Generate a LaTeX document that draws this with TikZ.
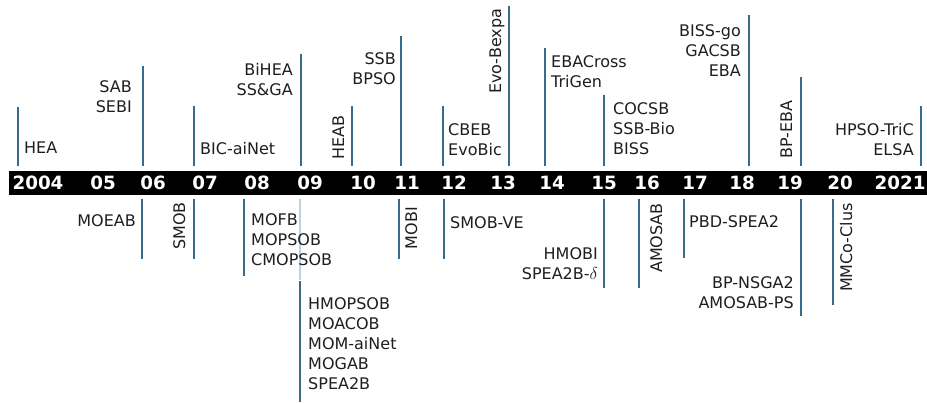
\documentclass[tikz,border=0pt]{standalone}
\usepackage{fontspec}
\setmainfont{DejaVu Sans}
\usetikzlibrary{positioning}
\definecolor{tickblue}{RGB}{55,108,140}
\definecolor{tickfade}{RGB}{190,211,226}
\definecolor{lbltext}{RGB}{30,30,30}

\begin{document}
\begin{tikzpicture}[x=1pt,y=-1pt,
    tick/.style={tickblue, line width=2.2pt},
    lbl/.style={inner sep=0pt, text=lbltext, font=\fontsize{16}{20}\selectfont},
    yr/.style={inner sep=0pt, text=white, font=\fontsize{18.3}{20}\selectfont\bfseries}]
    \useasboundingbox (0,0) rectangle (927,403);

    % Year bar
    \fill[black] (9,171) rectangle (927,195);
    \foreach \x/\y in {38/2004, 103/05, 153/06, 205/07, 257/08, 310/09, 363/10,
        407/11, 454/12, 503/13, 552/14, 604/15, 647/16, 695/17, 742/18, 790/19,
        840/20, 900/2021}
        \node[yr] (y\y) at (\x,183) {\y};

    % Ticks above the bar
    \foreach \x/\t in {18/107, 143/66, 194/106, 301/54, 352/106, 401/36, 443/106,
        509/6, 545/48, 604/95, 749/15, 801/77, 921/106}
        \draw[tick] (\x,\t) -- (\x,166);

    % Ticks below the bar
    \foreach \x/\b in {142/259, 194/259, 244/276, 399/259, 444/259, 604/288,
        639/288, 684/258, 801/316, 833/305}
        \draw[tick] (\x,199) -- (\x,\b);
    \draw[tick, tickfade] (300,199) -- (300,280);
    \draw[tick] (300,281) -- (300,402);

    % Labels above
    \node[lbl, anchor=north west] (hea) at (24,142) {HEA};
    \node[lbl, anchor=north east, align=right] (sab) at (132,80) {SAB\\SEBI};
    \node[lbl, anchor=north west] (bic) at (200,142) {BIC-aiNet};
    \node[lbl, anchor=north east, align=right] (bihea) at (293,63) {BiHEA\\SS\&GA};
    \node[lbl, rotate=90, anchor=base west] (heab) at (344,160) {HEAB};
    \node[lbl, anchor=north east, align=right] (ssb) at (396,52) {SSB\\BPSO};
    \node[lbl, anchor=north west, align=left] (cbeb) at (448,123) {CBEB\\EvoBic};
    \node[lbl, rotate=90, anchor=base west] (evob) at (501,94) {Evo-Bexpa};
    \node[lbl, anchor=north west, align=left] (ebac) at (551,55) {EBACross\\TriGen};
    \node[lbl, anchor=north west, align=left] (cocsb) at (613,102) {COCSB\\SSB-Bio\\BISS};
    \node[lbl, anchor=north east, align=right] (bissgo) at (741,24) {BISS-go\\GACSB\\EBA};
    \node[lbl, rotate=90, anchor=base west] (bpeba) at (792,159) {BP-EBA};
    \node[lbl, anchor=north east, align=right] (hpso) at (914,123) {HPSO-TriC\\ELSA};

    % Labels below
    \node[lbl, anchor=north east] (moeab) at (136,214) {MOEAB};
    \node[lbl, rotate=90, anchor=base east] (smob) at (185,202) {SMOB};
    \node[lbl, anchor=north west, align=left] (mofb) at (251,213) {MOFB\\MOPSOB\\CMOPSOB};
    \node[lbl, anchor=north west, align=left] (hmopsob) at (308,297)
        {HMOPSOB\\MOACOB\\MOM-aiNet\\MOGAB\\SPEA2B};
    \node[lbl, rotate=90, anchor=base east] (mobi) at (417,207) {MOBI};
    \node[lbl, anchor=north west] (smobve) at (450,216) {SMOB-VE};
    \node[lbl, anchor=north east, align=right] (hmobi) at (598,247) {HMOBI\\SPEA2B-$\delta$};
    \node[lbl, rotate=90, anchor=base east] (amosab) at (662,203) {AMOSAB};
    \node[lbl, anchor=north west] (pbd) at (689,215) {PBD-SPEA2};
    \node[lbl, anchor=north east, align=right] (bpnsga) at (794,276) {BP-NSGA2\\AMOSAB-PS};
    \node[lbl, rotate=90, anchor=base east] (mmco) at (852,203) {MMCo-Clus};
\end{tikzpicture}
\end{document}
